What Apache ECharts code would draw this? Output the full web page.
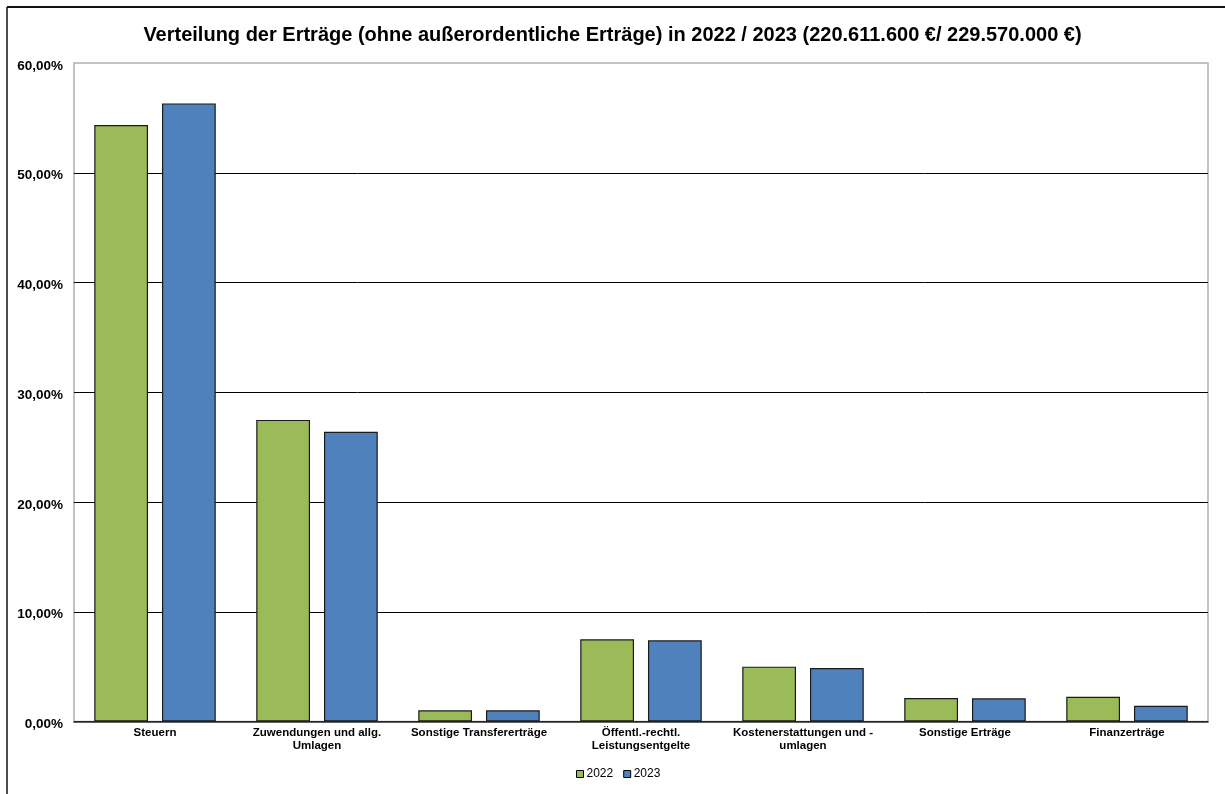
<!DOCTYPE html>
<html>
<head>
<meta charset="utf-8">
<script src="https://cdn.jsdelivr.net/npm/echarts@6/dist/echarts.min.js"></script>
<style>
html,body{margin:0;padding:0;background:#fff;}
#chart{width:1225px;height:794px;}
</style>
</head>
<body>
<div id="chart"></div>
<script>
const titleText = 'Verteilung der Erträge (ohne außerordentliche Erträge) in 2022 / 2023 (220.611.600 €/ 229.570.000 €)';
const categories = ['Steuern', 'Zuwendungen und allg.\nUmlagen', 'Sonstige Transfererträge', 'Öffentl.-rechtl.\nLeistungsentgelte', 'Kostenerstattungen und -\numlagen', 'Sonstige Erträge', 'Finanzerträge'];
const seriesNames = ['2022', '2023'];
const values2022 = [54.35, 27.48, 1.02, 7.49, 5.00, 2.14, 2.26];
const values2023 = [56.32, 26.39, 1.02, 7.40, 4.88, 2.11, 1.44];
const yMin = 0, yMax = 60, yStep = 10;

const FONT = "'Liberation Sans', Arial, sans-serif";
const chart = echarts.init(document.getElementById('chart'));
chart.setOption({
  animation: false,
  backgroundColor: '#fff',
  textStyle: { fontFamily: FONT },
  title: {
    text: titleText,
    left: 'center',
    top: 20,
    textStyle: { fontFamily: FONT, fontSize: 20, fontWeight: 'bold', color: '#000' }
  },
  graphic: [
    { type: 'line', shape: { x1: 7, y1: 7, x2: 1225, y2: 7 }, style: { stroke: '#111', lineWidth: 2 } },
    { type: 'line', shape: { x1: 7, y1: 7, x2: 7, y2: 794 }, style: { stroke: '#111', lineWidth: 1.5 } }
  ],
  legend: {
    data: seriesNames,
    left: 571,
    top: 763,
    icon: 'rect',
    itemWidth: 7,
    itemHeight: 7,
    itemGap: 10,
    textStyle: { fontFamily: FONT, fontSize: 12, color: '#000', padding: [0, 0, 0, -2] },
    itemStyle: { borderColor: '#000', borderWidth: 1 }
  },
  grid: {
    left: 74, right: 17, top: 63, bottom: 72.5,
    show: true, borderColor: '#b0b0b0', borderWidth: 1.5, backgroundColor: 'transparent'
  },
  xAxis: {
    type: 'category',
    data: categories,
    axisTick: { show: false },
    axisLine: { lineStyle: { color: '#333', width: 1.5 } },
    axisLabel: {
      interval: 0,
      fontFamily: FONT, fontSize: 11.5, fontWeight: 'bold', color: '#000',
      margin: 5, lineHeight: 13
    }
  },
  yAxis: {
    type: 'value',
    min: yMin, max: yMax, interval: yStep,
    axisLine: { show: false },
    axisTick: { show: false },
    splitLine: { show: true, showMaxLine: false, lineStyle: { color: '#000', width: 1 } },
    axisLabel: {
      fontFamily: FONT, fontSize: 13.5, fontWeight: 'bold', color: '#000', margin: 11,
      verticalAlign: 'top', lineHeight: 6,
      formatter: v => Number(v).toFixed(2).replace('.', ',') + '%'
    }
  },
  series: [
    {
      name: seriesNames[0], type: 'bar', data: values2022,
      barCategoryGap: '25%', barGap: '26%',
      itemStyle: { color: '#9BBB59', borderColor: '#1a1a1a', borderWidth: 1.2 }
    },
    {
      name: seriesNames[1], type: 'bar', data: values2023,
      barCategoryGap: '25%', barGap: '26%',
      itemStyle: { color: '#4F81BD', borderColor: '#1a1a1a', borderWidth: 1.2 }
    }
  ]
});
</script>
</body>
</html>
